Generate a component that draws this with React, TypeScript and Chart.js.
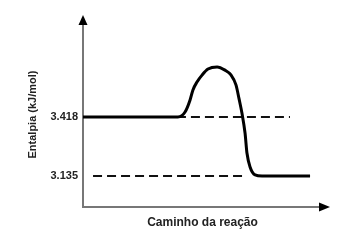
import React, { useEffect, useRef } from "react";
import { Chart, registerables } from "chart.js";

Chart.register(...registerables);

// Reaction path (arbitrary units 0-100) and enthalpy values (kJ/mol)
const curveX = [0, 39.7, 42.7, 44.8, 46.0, 47.7, 49.8, 52.3, 56.1, 59.4, 61.9, 64.0, 65.3, 66.5, 67.8, 68.6, 69.9, 72.0, 74.9, 95.0];
const curveY = [3.418, 3.418, 3.442, 3.5, 3.548, 3.586, 3.619, 3.648, 3.658, 3.643, 3.62, 3.572, 3.505, 3.437, 3.341, 3.245, 3.178, 3.14, 3.135, 3.135];
const reactantLineX = [39.3, 86.6];
const productLineX = [4.2, 68.6];
const reactantLevel = 3.418;
const productLevel = 3.135;
const yTicks = [3.135, 3.418];
const xTitle = "Caminho da reação";
const yTitle = "Entalpia (kJ/mol)";

const arrowPlugin = {
  id: "axisArrows",
  afterDraw(chart: any) {
    const { ctx, chartArea } = chart;
    const { left, right, top, bottom } = chartArea;
    ctx.save();
    ctx.fillStyle = "#000";
    ctx.beginPath();
    ctx.moveTo(left, top - 7);
    ctx.lineTo(left - 4.5, top + 3);
    ctx.lineTo(left + 4.5, top + 3);
    ctx.closePath();
    ctx.fill();
    ctx.beginPath();
    ctx.moveTo(right + 8, bottom);
    ctx.lineTo(right - 3, bottom - 4.5);
    ctx.lineTo(right - 3, bottom + 4.5);
    ctx.closePath();
    ctx.fill();
    ctx.restore();
  },
};

export default function App() {
  const ref = useRef<HTMLCanvasElement>(null);
  useEffect(() => {
    document.body.style.margin = "0";
    const canvas = ref.current!;
    const chart = new Chart(canvas, {
      type: "line",
      data: {
        datasets: [
          {
            data: curveX.map((x, i) => ({ x, y: curveY[i] })),
            borderColor: "#000",
            borderWidth: 3,
            pointRadius: 0,
            cubicInterpolationMode: "monotone",
          },
          {
            data: reactantLineX.map((x) => ({ x, y: reactantLevel })),
            borderColor: "#111",
            borderWidth: 2,
            borderDash: [9, 5],
            pointRadius: 0,
          },
          {
            data: productLineX.map((x) => ({ x, y: productLevel })),
            borderColor: "#111",
            borderWidth: 2,
            borderDash: [9, 5],
            pointRadius: 0,
          },
        ],
      },
      options: {
        animation: false,
        responsive: false,
        maintainAspectRatio: false,
        layout: { padding: { top: 22, right: 26, left: 0, bottom: 0 } },
        plugins: { legend: { display: false }, tooltip: { enabled: false } },
        scales: {
          x: {
            type: "linear",
            min: 0,
            max: 100,
            grid: { display: false, drawTicks: false },
            border: { display: true, color: "#777", width: 2 },
            ticks: { display: false },
            title: {
              display: true,
              text: xTitle,
              color: "#222",
              font: { family: "Liberation Sans", size: 12, weight: "bold" },
              padding: { top: 8, bottom: 10 },
            },
            afterFit: (s: any) => {
              s.height = 33;
            },
          },
          y: {
            type: "linear",
            min: 2.986,
            max: 3.874,
            grid: { display: false, drawTicks: false },
            border: { display: true, color: "#777", width: 2 },
            afterBuildTicks: (s: any) => {
              s.ticks = yTicks.map((v) => ({ value: v }));
            },
            ticks: {
              color: "#222",
              padding: 5,
              font: { family: "Liberation Sans", size: 11, weight: "bold" },
              callback: (v: any) => Number(v).toFixed(3),
            },
            title: {
              display: true,
              text: yTitle,
              color: "#222",
              font: { family: "Liberation Sans", size: 11, weight: "bold" },
              padding: { top: 26, bottom: 4 },
            },
            afterFit: (s: any) => {
              s.width = 83;
            },
          },
        },
      },
      plugins: [arrowPlugin],
    } as any);
    return () => chart.destroy();
  }, []);
  return (
    <div style={{ position: "absolute", left: 0, top: 0, width: 348, height: 240, background: "#fff" }}>
      <canvas ref={ref} width={348} height={240} />
    </div>
  );
}
